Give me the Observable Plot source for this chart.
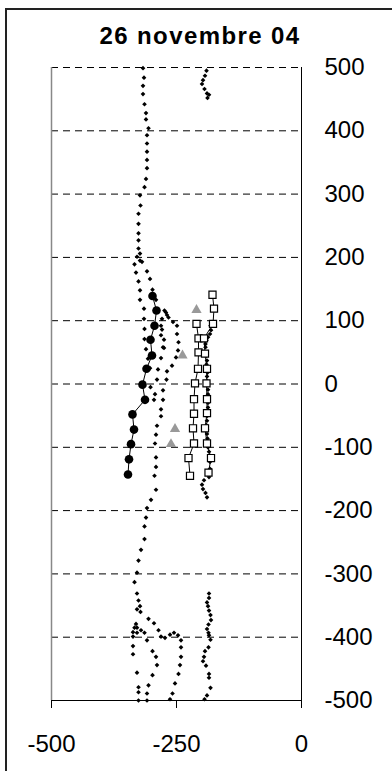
<!DOCTYPE html>
<html><head><meta charset="utf-8">
<script src="https://cdn.jsdelivr.net/npm/d3@7"></script>
<script src="https://cdn.jsdelivr.net/npm/@observablehq/plot@0.6"></script>
<style>
body{margin:0;background:#fff;}
#wrap{position:relative;width:392px;height:771px;overflow:hidden;font-family:"Liberation Sans",Arial,sans-serif;}
#frame{position:absolute;left:5px;top:8px;width:420px;height:820px;border-left:2px solid #222;border-top:2px solid #222;}
#title{position:absolute;left:0;width:400px;top:22px;text-align:center;font-weight:bold;font-size:24px;letter-spacing:1.4px;color:#000;}
#chart{position:absolute;left:0;top:0;}
</style></head>
<body><div id="wrap"><div id="frame"></div><div id="chart"></div><div id="title">26 novembre 04</div></div>
<script>
const titleText = "26 novembre 04";
const xTicks = [-500, -250, 0];
const yTicks = [500, 400, 300, 200, 100, 0, -100, -200, -300, -400, -500];
const gridY = [500, 400, 300, 200, 100, 0, -100, -200, -300, -400];

// dotted profiles (small black markers, no line)
const dotA = [[-317,499],[-315,484],[-317,471],[-317,458],[-314,442],[-311,428],[-311,418],[-306,404],[-309,393],[-309,380],[-309,367],[-309,354],[-309,341],[-311,324],[-314,311],[-323,298],[-322,282],[-326,269],[-326,253],[-326,238],[-326,227],[-326,214],[-323,206],[-329,201],[-323,195],[-319,193],[-334,189],[-331,176],[-326,162],[-323,148],[-323,133],[-315,119],[-315,103],[-314,87],[-314,71],[-311,55],[-307,40],[-303,25],[-302,-5]];
const dotB = [[-309,178],[-303,166],[-298,149],[-291,133],[-274,116],[-271,113],[-269,109],[-266,105],[-257,98],[-249,92],[-249,79],[-246,66],[-247,53],[-251,42],[-259,29],[-269,20],[-270,7],[-277,-10],[-277,-25],[-281,-40],[-281,-51],[-289,-66],[-291,-80],[-293,-94],[-291,-116],[-291,-131],[-294,-145],[-291,-167],[-301,-183],[-309,-196],[-311,-211],[-314,-225],[-314,-245],[-321,-262],[-326,-279],[-329,-298],[-334,-313],[-329,-331],[-326,-342],[-323,-351],[-329,-356],[-322,-360],[-331,-379],[-334,-385],[-337,-392],[-337,-399],[-337,-414],[-337,-427],[-329,-456],[-326,-479],[-326,-487],[-326,-500]];
const dotC = [[-279,103],[-281,92],[-279,86],[-281,77],[-275,70],[-277,58],[-275,57],[-281,41],[-287,23],[-289,7],[-293,-16],[-295,-25]];
const dotD = [[-179,98],[-182,92],[-181,85],[-183,79],[-187,74],[-190,69],[-192,63],[-192,58],[-190,50],[-191,44],[-189,37],[-190,31],[-189,25],[-188,18],[-189,12],[-189,5],[-188,-2],[-187,-9],[-187,-16],[-188,-23],[-187,-30],[-187,-37],[-188,-44],[-189,-51],[-189,-58],[-190,-65],[-189,-72],[-189,-79],[-188,-86],[-187,-93],[-187,-100],[-185,-107],[-184,-114],[-183,-123],[-183,-134],[-185,-147],[-195,-152],[-199,-159],[-197,-166],[-192,-172],[-189,-179]];
const dotE = [[-190,495],[-193,487],[-197,480],[-199,474],[-194,466],[-189,459],[-185,457],[-188,452]];
const dotF = [[-185,-331],[-185,-338],[-189,-345],[-187,-351],[-185,-358],[-182,-365],[-181,-373],[-186,-380],[-189,-387],[-186,-393],[-185,-397],[-182,-404],[-186,-416],[-193,-422],[-195,-431],[-197,-438],[-191,-445],[-185,-458],[-185,-464],[-182,-480],[-189,-492],[-194,-498]];
const dotG = [[-306,-371],[-295,-378],[-286,-389],[-281,-399],[-273,-401],[-263,-396],[-255,-393],[-247,-397],[-241,-405],[-241,-416],[-241,-431],[-243,-444],[-246,-458],[-253,-473],[-258,-489],[-263,-498]];
const dotH = [[-329,-385],[-329,-393],[-321,-389],[-314,-393],[-309,-405],[-298,-422],[-291,-431],[-289,-444],[-298,-460],[-306,-476],[-309,-489],[-309,-500]];

// filled circles with line
const circles = [[-298,139],[-290,116],[-294,92],[-302,70],[-299,45],[-310,24],[-318,-1],[-313,-25],[-338,-48],[-335,-72],[-341,-95],[-345,-119],[-347,-143]];
// open squares with lines
const squaresL = [[-210,95],[-206,72],[-206,50],[-207,24],[-213,1],[-215,-24],[-215,-47],[-217,-70],[-215,-94],[-226,-117],[-223,-145]];
const squaresR = [[-178,141],[-175,119],[-177,95],[-195,72],[-193,48],[-189,24],[-190,1],[-189,-24],[-189,-46],[-193,-70],[-189,-94],[-181,-117],[-186,-140]];
// gray triangles
const triangles = [[-210,117],[-238,45],[-253,-71],[-261,-95]];

const X = d => d[0], Y = d => d[1];
const dotted = [dotA, dotB, dotC, dotD, dotE, dotF, dotG, dotH];

const chart = Plot.plot({
  width: 392, height: 771,
  marginLeft: 51, marginRight: 91, marginTop: 67, marginBottom: 71,
  x: {domain: [-500, 0]},
  y: {domain: [-500, 500]},
  style: {fontFamily: "'Liberation Sans', Arial, sans-serif", fontSize: "24px", background: "transparent", color: "#000", overflow: "visible"},
  marks: [
    Plot.ruleY(gridY, {stroke: "#000", strokeDasharray: "7,5", strokeWidth: 1}),
    Plot.ruleX([-500], {stroke: "#888", strokeWidth: 1.5}),
    Plot.ruleX([0], {stroke: "#000", strokeWidth: 1}),
    Plot.ruleY([-500], {stroke: "#000", strokeWidth: 1}),
    Plot.axisX({ticks: xTicks, tickSize: 8, tickPadding: 26, label: null, tickFormat: d => String(d), stroke: "#000"}),
    Plot.axisY({anchor: "right", ticks: yTicks, tickSize: 0, tickPadding: 23, label: null, textAnchor: "start", tickFormat: d => String(d)}),
    Plot.line(squaresL, {x: X, y: Y, stroke: "#000", strokeWidth: 1}),
    Plot.line(squaresR, {x: X, y: Y, stroke: "#000", strokeWidth: 1}),
    Plot.line(circles, {x: X, y: Y, stroke: "#000", strokeWidth: 1}),
    ...dotted.map(s => Plot.dot(s, {x: X, y: Y, r: 2.1, symbol: "diamond2", fill: "#000"})),
    Plot.dot(triangles, {x: X, y: Y, r: 3.8, symbol: "triangle", fill: "#999"}),
    Plot.dot(squaresL, {x: X, y: Y, r: 4, symbol: "square", fill: "#fff", stroke: "#000", strokeWidth: 1.2}),
    Plot.dot(squaresR, {x: X, y: Y, r: 4, symbol: "square", fill: "#fff", stroke: "#000", strokeWidth: 1.2}),
    Plot.dot(circles, {x: X, y: Y, r: 4.3, fill: "#000"})
  ]
});
document.getElementById("chart").appendChild(chart);
document.getElementById("title").textContent = titleText;
</script>
</body></html>
